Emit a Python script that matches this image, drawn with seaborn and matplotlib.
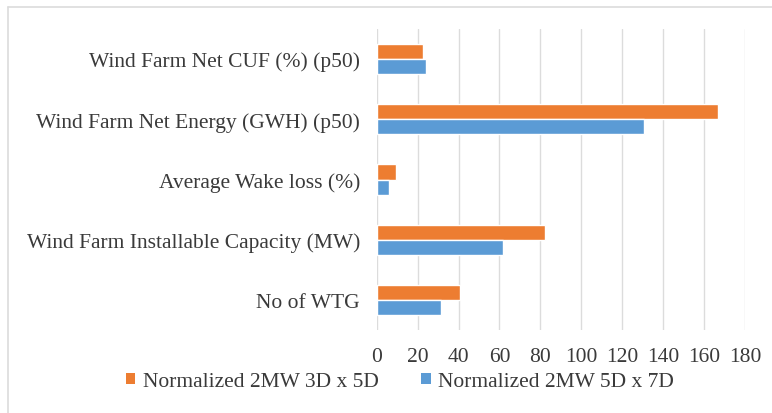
import matplotlib
matplotlib.use("Agg")
import matplotlib.pyplot as plt
from matplotlib.lines import Line2D
from matplotlib.patches import Patch
import seaborn as sns
import pandas as pd

categories = [
    "Wind Farm Net CUF (%) (p50)",
    "Wind Farm Net Energy (GWH) (p50)",
    "Average Wake loss (%)",
    "Wind Farm Installable Capacity (MW)",
    "No of WTG",
]
series_names = ["Normalized 2MW 3D x 5D", "Normalized 2MW 5D x 7D"]
values_3d5d = [22.8, 166.9, 9.4, 82.2, 40.7]
values_5d7d = [24.1, 130.6, 6.2, 61.9, 31.3]
x_ticks = [0, 20, 40, 60, 80, 100, 120, 140, 160, 180]
colors = ["#ED7D31", "#5B9BD5"]

df = pd.DataFrame({
    "category": categories * 2,
    "series": [series_names[0]] * len(categories) + [series_names[1]] * len(categories),
    "value": values_3d5d + values_5d7d,
})

sns.set_theme(style="white")
plt.rcParams["font.family"] = ["Liberation Serif", "DejaVu Serif"]
text_color = "#3a3a3a"
fs = 15.5

fig = plt.figure(figsize=(7.72, 4.14), dpi=100)
ax = fig.add_axes([0.488, 0.2005, 0.965 - 0.488, 0.9275 - 0.2005])

sns.barplot(data=df, y="category", x="value", hue="series", order=categories,
            hue_order=series_names, palette=colors, orient="h", width=0.5,
            saturation=1, ax=ax, legend=False)

ax.set_xlim(0, 180)
ax.set_xticks(x_ticks)
ax.set_xticklabels([str(t) for t in x_ticks], fontsize=fs, color=text_color)
ax.tick_params(axis="y", labelsize=fs, labelcolor=text_color, length=0, pad=12)
ax.tick_params(axis="x", length=0, pad=12)
ax.set_xlabel("")
ax.set_ylabel("")
ax.grid(axis="x", color="#dcdcdc", linewidth=1)
ax.set_axisbelow(True)
for s in ax.spines.values():
    s.set_visible(False)

handles = [Patch(facecolor=c, edgecolor="none") for c in colors]
fig.legend(handles, series_names, loc="center", bbox_to_anchor=(0.518, 0.076),
           ncol=2, frameon=False, fontsize=fs, handlelength=0.45, handleheight=0.45,
           handletextpad=0.35, columnspacing=1.95, labelcolor=text_color)

# outer chart frame
fig.add_artist(Line2D([8 / 772, 8 / 772], [0, 1 - 8 / 414], transform=fig.transFigure,
                      color="#dcdcdc", linewidth=1.2))
fig.add_artist(Line2D([8 / 772, 1], [1 - 8 / 414, 1 - 8 / 414], transform=fig.transFigure,
                      color="#dcdcdc", linewidth=1.2))

fig.savefig("out.png", dpi=100)
